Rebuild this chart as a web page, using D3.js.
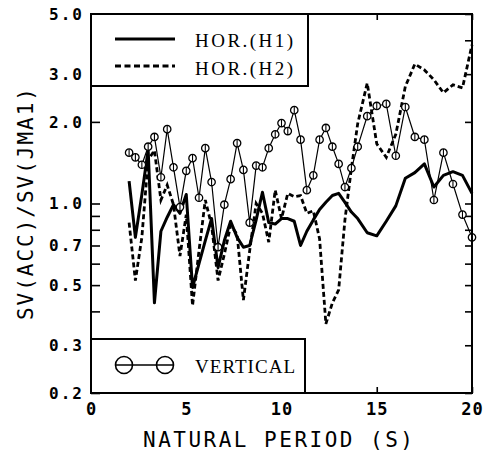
<!DOCTYPE html>
<html>
<head>
<meta charset="utf-8">
<script src="https://cdn.jsdelivr.net/npm/d3@7"></script>
<style>
  body { margin: 0; background: #fff; }
  svg { display: block; }
  .ylab text { font-family: "DejaVu Sans Mono", monospace; font-weight: bold; font-size: 16px; letter-spacing: 2px; }
  .xlab text { font-family: "DejaVu Sans Mono", monospace; font-weight: bold; font-size: 17px; letter-spacing: 1px; }
  .title { font-family: "DejaVu Sans Mono", monospace; font-size: 21px; }
  .legend-text { font-family: "Liberation Serif", serif; font-size: 19px; }
</style>
</head>
<body>
<svg id="chart" width="495" height="452"></svg>
<script>
// natural period (s), same grid for all three curves
var periods = [2.00, 2.33, 2.67, 3.00, 3.33, 3.67, 4.00, 4.33, 4.67, 5.00, 5.33, 5.67,
  6.00, 6.33, 6.67, 7.00, 7.33, 7.67, 8.00, 8.33, 8.67, 9.00, 9.33, 9.67,
  10.00, 10.33, 10.67, 11.00, 11.33, 11.67, 12.00, 12.33, 12.67, 13.00, 13.33, 13.67,
  14.0, 14.5, 15.0, 15.5, 16.0, 16.5, 17.0, 17.5, 18.0, 18.5, 19.0, 19.5, 20.0];

var vertical = [1.54, 1.48, 1.39, 1.62, 1.76, 1.25, 1.88, 1.36, 0.97, 1.32, 1.47, 1.05,
  1.60, 1.20, 0.69, 0.99, 1.23, 1.67, 1.33, 0.85, 1.38, 1.36, 1.60, 1.80,
  1.98, 1.85, 2.21, 1.72, 1.12, 1.27, 1.72, 1.90, 1.62, 1.40, 1.15, 1.35,
  1.62, 2.10, 2.29, 2.33, 1.50, 2.27, 1.76, 1.72, 1.03, 1.54, 1.18, 0.91, 0.75];

var hor1 = [1.21, 0.75, 1.08, 1.58, 0.43, 0.79, 0.89, 0.99, 0.92, 1.08, 0.49, 0.60,
  0.73, 0.88, 0.58, 0.73, 0.86, 0.75, 0.69, 0.70, 0.87, 1.10, 0.85, 0.84,
  0.88, 0.88, 0.86, 0.70, 0.79, 0.87, 0.95, 1.01, 1.07, 1.09, 1.01, 0.93,
  0.88, 0.78, 0.76, 0.86, 0.98, 1.24, 1.30, 1.40, 1.15, 1.27, 1.31, 1.27, 1.09];

var hor2 = [0.85, 0.52, 0.75, 1.45, 1.57, 1.03, 1.17, 0.99, 0.64, 0.91, 0.42, 0.67,
  1.03, 0.83, 0.52, 0.65, 0.83, 0.77, 0.44, 0.67, 1.00, 0.92, 0.72, 1.12,
  0.88, 1.09, 1.06, 1.07, 0.92, 0.94, 0.74, 0.36, 0.43, 0.48, 0.87, 1.35,
  1.97, 2.78, 1.66, 1.48, 1.80, 2.70, 3.27, 3.11, 2.86, 2.56, 2.74, 2.67, 3.85];

var yTicks = [5, 4, 3, 2, 1, 0.9, 0.8, 0.7, 0.6, 0.5, 0.4, 0.3, 0.2];
var yLabels = [5, 3, 2, 1, 0.7, 0.5, 0.3, 0.2];
var xTicks = [0, 5, 10, 15, 20];
var topLegend = ['HOR.(H1)', 'HOR.(H2)'];
var bottomLegend = 'VERTICAL';
var xTitle = 'NATURAL PERIOD (S)';
var yTitle = 'SV(ACC)/SV(JMA1)';

var plotL = 91, plotR = 472, plotT = 14, plotB = 393;

var svg = d3.select('#chart');
var x = d3.scaleLinear().domain([0, 20]).range([plotL, plotR]);
var y = d3.scaleLog().domain([0.2, 5]).range([plotB, plotT]);

function series(vals) {
  return periods.map(function (p, i) { return [p, vals[i]]; });
}

var line = d3.line()
  .x(function (d) { return x(d[0]); })
  .y(function (d) { return y(d[1]); });

// axes, ticks pointing inward
svg.append('g').attr('class', 'ylab')
  .attr('transform', 'translate(' + plotL + ',0)')
  .call(d3.axisLeft(y).tickValues(yTicks).tickSizeInner(-9).tickSizeOuter(0).tickPadding(7)
    .tickFormat(function (d) { return yLabels.indexOf(d) >= 0 ? d3.format('.1f')(d) : ''; }));

svg.append('g')
  .attr('transform', 'translate(' + plotR + ',0)')
  .call(d3.axisRight(y).tickValues(yTicks).tickSizeInner(-7).tickSizeOuter(0).tickFormat(''));

svg.append('g').attr('class', 'xlab')
  .attr('transform', 'translate(0,' + plotB + ')')
  .call(d3.axisBottom(x).tickValues(xTicks).tickSizeInner(-6).tickSizeOuter(0).tickPadding(10));

svg.append('g')
  .attr('transform', 'translate(0,' + plotT + ')')
  .call(d3.axisTop(x).tickValues(xTicks).tickSizeInner(-6).tickSizeOuter(0).tickFormat(''));

svg.selectAll('.domain').remove();
svg.selectAll('.tick line').attr('stroke', '#000').attr('stroke-width', 1.6);
svg.selectAll('.tick text').attr('fill', '#000');

// curves
svg.append('path')
  .datum(series(hor2))
  .attr('d', line)
  .attr('fill', 'none')
  .attr('stroke', '#000')
  .attr('stroke-width', 2.8)
  .attr('stroke-dasharray', '5,3');

svg.append('path')
  .datum(series(hor1))
  .attr('d', line)
  .attr('fill', 'none')
  .attr('stroke', '#000')
  .attr('stroke-width', 3)
  .attr('stroke-linejoin', 'round');

svg.append('path')
  .datum(series(vertical))
  .attr('d', line)
  .attr('fill', 'none')
  .attr('stroke', '#000')
  .attr('stroke-width', 1.2);

var marks = svg.append('g').selectAll('g')
  .data(series(vertical))
  .enter().append('g')
  .attr('transform', function (d) { return 'translate(' + x(d[0]) + ',' + y(d[1]) + ')'; });

marks.append('circle')
  .attr('r', 3.7)
  .attr('fill', '#fff')
  .attr('stroke', '#000')
  .attr('stroke-width', 1.3);

marks.append('line')
  .attr('y1', -3.7).attr('y2', 3.7)
  .attr('stroke', '#000')
  .attr('stroke-width', 1.1);

// frame
svg.append('rect')
  .attr('x', plotL).attr('y', plotT)
  .attr('width', plotR - plotL).attr('height', plotB - plotT)
  .attr('fill', 'none')
  .attr('stroke', '#000')
  .attr('stroke-width', 2);

// top legend
svg.append('rect')
  .attr('x', plotL).attr('y', plotT)
  .attr('width', 217).attr('height', 72)
  .attr('fill', '#fff')
  .attr('stroke', '#000')
  .attr('stroke-width', 2);

svg.append('line')
  .attr('x1', 115).attr('x2', 175).attr('y1', 39).attr('y2', 39)
  .attr('stroke', '#000').attr('stroke-width', 3);

svg.append('line')
  .attr('x1', 115).attr('x2', 175).attr('y1', 66).attr('y2', 66)
  .attr('stroke', '#000').attr('stroke-width', 3)
  .attr('stroke-dasharray', '6,3.5');

svg.selectAll('.leg-top')
  .data(topLegend)
  .enter().append('text')
  .attr('class', 'legend-text')
  .attr('x', 195)
  .attr('y', function (d, i) { return 47 + i * 28; })
  .attr('textLength', 98)
  .attr('lengthAdjust', 'spacing')
  .text(function (d) { return d; });

// bottom legend
svg.append('rect')
  .attr('x', plotL).attr('y', 339)
  .attr('width', 214).attr('height', plotB - 339)
  .attr('fill', '#fff')
  .attr('stroke', '#000')
  .attr('stroke-width', 2);

svg.append('line')
  .attr('x1', 115).attr('x2', 173).attr('y1', 365).attr('y2', 365)
  .attr('stroke', '#000').attr('stroke-width', 1.4);

svg.selectAll('.leg-circ')
  .data([124, 165])
  .enter().append('circle')
  .attr('cx', function (d) { return d; })
  .attr('cy', 365)
  .attr('r', 8.5)
  .attr('fill', 'none')
  .attr('stroke', '#000')
  .attr('stroke-width', 1.6);

svg.append('text')
  .attr('class', 'legend-text')
  .attr('x', 195).attr('y', 373)
  .attr('textLength', 100)
  .attr('lengthAdjust', 'spacing')
  .text(bottomLegend);

// axis titles
svg.append('text')
  .attr('class', 'title')
  .attr('x', 143).attr('y', 447)
  .attr('textLength', 270)
  .attr('lengthAdjust', 'spacing')
  .text(xTitle);

svg.append('text')
  .attr('class', 'title')
  .attr('transform', 'translate(33,320) rotate(-90)')
  .attr('textLength', 232)
  .attr('lengthAdjust', 'spacing')
  .text(yTitle);
</script>
</body>
</html>
